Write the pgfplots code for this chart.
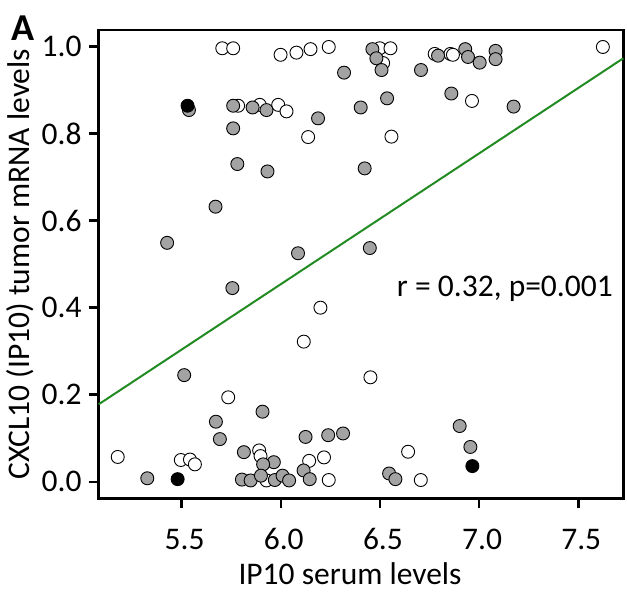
\documentclass[border=0pt]{standalone}
\usepackage{fontspec}
\setmainfont{Carlito}
\usepackage{pgfplots}
\pgfplotsset{compat=1.18}
\definecolor{ptgray}{RGB}{163,163,163}
\definecolor{fitgreen}{RGB}{34,139,34}
\newcommand{\chartfont}{\fontsize{31.5bp}{38bp}\selectfont}
\begin{document}
\begin{tikzpicture}
\useasboundingbox (-98.7bp,-97.7bp) rectangle (528.3bp,498.3bp);
\begin{axis}[
  at={(0,0)}, anchor=south west,
  scale only axis, width=524.6bp, height=468.3bp,
  xmin=5.082, xmax=7.727, ymin=-0.038, ymax=1.038,
  xtick={5.5,6,6.5,7,7.5}, xticklabels={5.5,6.0,6.5,7.0,7.5},
  ytick={0,0.2,0.4,0.6,0.8,1}, yticklabels={0.0,0.2,0.4,0.6,0.8,1.0},
  /pgf/number format/assume math mode=true,
  xtick align=outside, ytick align=outside,
  xtick pos=left, ytick pos=left,
  major tick length=10bp,
  every tick/.style={black, line width=2.5bp},
  axis line style={line width=2.5bp},
  ticklabel style={font=\chartfont},
  xticklabel style={anchor=base, inner sep=0pt, yshift=-41bp, xshift=3bp},
  yticklabel style={anchor=east, inner sep=0pt, xshift=-7bp},
  xlabel={IP10 serum levels},
  ylabel={CXCL10 (IP10) tumor mRNA levels},
  xlabel style={font=\chartfont, at={(axis description cs:0.479,-0.1851)}, anchor=base},
  ylabel style={font=\chartfont, at={(axis description cs:-0.131,0.5)}, anchor=base},
  clip=false,
]
\addplot[fitgreen, line width=2bp] coordinates {(5.082,0.178) (7.727,0.973)};
% white points
\addplot[only marks, mark=*, mark size=6.5bp, mark options={draw=black, line width=0.9bp, fill=white}] coordinates {
(5.705,0.996) (5.760,0.996) (5.999,0.981) (6.079,0.986) (6.150,0.994) (6.242,0.999)
(6.499,0.996) (6.553,0.996) (6.516,0.962) (6.776,0.983) (6.855,0.983) (6.868,0.981)
(7.624,0.999) (5.785,0.864) (5.894,0.866) (5.987,0.866) (6.029,0.851) (6.138,0.792)
(6.964,0.875) (6.558,0.793) (6.200,0.400) (6.116,0.322) (6.452,0.240) (5.735,0.194)
(5.178,0.057) (5.496,0.050) (5.542,0.051) (5.567,0.040) (5.891,0.072) (5.898,0.059)
(6.143,0.048) (6.218,0.056) (5.928,0.003) (6.242,0.004) (6.642,0.069) (6.706,0.004)
};
% gray points
\addplot[only marks, mark=*, mark size=6.5bp, mark options={draw=black, line width=0.9bp, fill=ptgray}] coordinates {
(5.537,0.854) (5.760,0.864) (5.858,0.860) (5.928,0.854) (5.760,0.812) (5.781,0.730)
(5.933,0.713) (5.671,0.632) (5.427,0.549) (6.188,0.835) (6.087,0.525) (5.756,0.445)
(6.462,0.994) (6.482,0.973) (6.508,0.946) (6.319,0.940) (6.707,0.946) (6.793,0.979)
(6.930,0.994) (6.944,0.976) (7.003,0.963) (7.083,0.990) (7.083,0.971) (6.536,0.881)
(6.403,0.860) (6.860,0.892) (7.174,0.862) (6.423,0.720) (6.449,0.537) (5.513,0.245)
(5.673,0.138) (5.693,0.098) (5.908,0.161) (6.125,0.103) (6.239,0.107) (6.314,0.111)
(5.814,0.068) (5.965,0.045) (5.911,0.040) (6.115,0.026) (6.146,0.006) (5.327,0.008)
(5.804,0.005) (5.848,0.003) (5.900,0.014) (5.970,0.004) (6.009,0.014) (6.042,0.003)
(6.546,0.019) (6.578,0.006) (6.902,0.128) (6.956,0.080)
};
% black points
\addplot[only marks, mark=*, mark size=6.5bp, mark options={draw=black, line width=0.9bp, fill=black}] coordinates {
(5.530,0.864) (5.480,0.006) (6.966,0.036)
};
\node[font=\chartfont, anchor=base] at (axis cs:7.13,0.425) {r = 0.32, p=0.001};
\node[font=\fontsize{38bp}{44bp}\selectfont\bfseries, anchor=base west, inner sep=0pt] at (axis description cs:-0.166,0.978) {A};
\end{axis}
\end{tikzpicture}
\end{document}
